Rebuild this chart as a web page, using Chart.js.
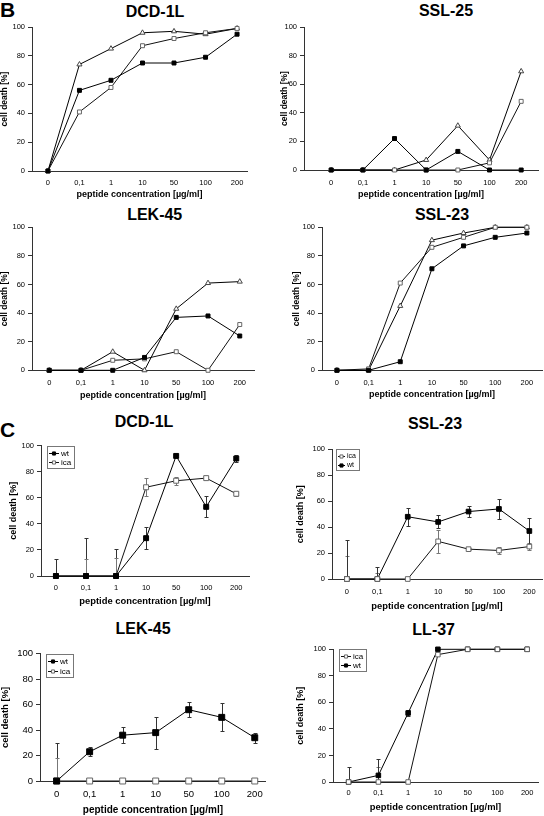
<!DOCTYPE html>
<html>
<head>
<meta charset="utf-8">
<script src="https://cdn.jsdelivr.net/npm/chart.js@4.4.0/dist/chart.umd.min.js"></script>
<style>
  body { margin: 0; background: #fff; width: 544px; height: 816px; position: relative; overflow: hidden; font-family: 'Liberation Sans', Arial, sans-serif; }
  canvas { position: absolute; }
  .ttl { position: absolute; width: 200px; text-align: center; font-weight: bold; font-size: 16px; line-height: 16px; color: #000; }
  .lbl { position: absolute; font-weight: bold; font-size: 21px; line-height: 21px; color: #000; }
</style>
</head>
<body>
<div class="lbl" style="left:0px;top:-1px">B</div>
<div class="lbl" style="left:0px;top:419px">C</div>
<script>
var concLabels = ['0', '0,1', '1', '10', '50', '100', '200'];
var yTicks = [0, 20, 40, 60, 80, 100];

// panel B
var dcdB_filled = [0, 56, 63, 75, 75, 79, 95];
var dcdB_open = [0, 41, 58, 87, 92, 96, 99];
var dcdB_tri = [0, 74, 85, 96, 97, 95, 99];

var ssl25_filled = [0, 0, 22, 0, 13, 0, 0];
var ssl25_open = [0, 0, 0, 0, 0, 5, 48];
var ssl25_tri = [0, 0, 0, 7, 31, 7, 69];

var lekB_filled = [0, 0, 0, 9, 37, 38, 24];
var lekB_open = [0, 0, 7, 8, 13, 0, 32];
var lekB_tri = [0, 0, 13, 0, 43, 61, 62];

var sslB_filled = [0, 0, 6, 71, 87, 93, 96];
var sslB_open = [0, 1, 61, 86, 93, 100, 100];
var sslB_tri = [0, 0, 45, 91, 96, 100, 100];

// panel C (mean and error)
var dcdC_wt = [0, 0, 0, 29, 92, 53, 90];
var dcdC_wtErr = [13, 29, 21, 8.5, 1, 8, 3];
var dcdC_ica = [0, 0, 0, 68, 73, 75, 63];
var dcdC_icaErr = [0, 13, 13.5, 7, 3, 0.5, 1.5];

var sslC_ica = [0, 0, 0, 29, 23, 22, 25];
var sslC_icaErr = [18, 5, 0, 9, 1, 3, 3];
var sslC_wt = [0, 0, 48, 44, 52, 54, 37];
var sslC_wtErr = [30, 9, 7, 5, 4, 8, 10];

var lekC_wt = [0, 23, 36, 38, 56, 50, 34];
var lekC_wtErr = [30, 3.5, 6.5, 12.5, 6, 11, 4];
var lekC_ica = [0, 0, 0, 0, 0, 0, 0];
var lekC_icaErr = [18, 0, 0, 0, 0, 0, 0];

var ll37_ica = [0, 0, 0, 96, 100, 100, 100];
var ll37_icaErr = [0, 11, 0, 0, 0, 0, 0];
var ll37_wt = [0, 5, 52, 100, 100, 100, 100];
var ll37_wtErr = [11, 12, 2, 0, 0, 0, 0];

var markerStyles = {
  filled: { shape: 'rect', fill: '#000', edge: '#000', line: '#000', scale: 1, err: '#333' },
  open: { shape: 'rect', fill: '#fff', edge: '#666', line: '#111', scale: 1, err: '#777' },
  tri: { shape: 'triangle', fill: '#fff', edge: '#444', line: '#000', scale: 1.05, err: '#777' }
};

var panels = [
  { title: 'DCD-1L', tx: 155, ty: 11.5, L: 32, T: 27, R: 248, B: 171, p0: 48, s: 31.67,
    yTitleX: 5, xTitleY: 195, xTickY: 183, tickFs: 7.5, yFs: 8.5, xFs: 9, r: 2.8,
    series: [['', dcdB_filled, null, 'filled'], ['', dcdB_open, null, 'open'], ['', dcdB_tri, null, 'tri']] },
  { title: 'SSL-25', tx: 446, ty: 11, L: 304, T: 27, R: 539, B: 170, p0: 331.3, s: 31.8,
    yTitleX: 285.3, xTitleY: 195, xTickY: 182.7, tickFs: 7.5, yFs: 8.5, xFs: 9, r: 2.8,
    series: [['', ssl25_filled, null, 'filled'], ['', ssl25_open, null, 'open'], ['', ssl25_tri, null, 'tri']] },
  { title: 'LEK-45', tx: 154.7, ty: 215, L: 32, T: 227.3, R: 255, B: 370.3, p0: 49.3, s: 31.9,
    yTitleX: 5, xTitleY: 395.7, xTickY: 382.7, tickFs: 7.5, yFs: 8.5, xFs: 9, r: 2.8,
    series: [['', lekB_filled, null, 'filled'], ['', lekB_open, null, 'open'], ['', lekB_tri, null, 'tri']] },
  { title: 'SSL-23', tx: 442, ty: 215, L: 322, T: 227.3, R: 543, B: 370.3, p0: 337, s: 31.8,
    yTitleX: 297, xTitleY: 395, xTickY: 382.7, tickFs: 7.5, yFs: 8.5, xFs: 9, r: 2.8,
    series: [['', sslB_filled, null, 'filled'], ['', sslB_open, null, 'open'], ['', sslB_tri, null, 'tri']] },
  { title: 'DCD-1L', tx: 144, ty: 422, L: 41, T: 445.5, R: 250, B: 576, p0: 56, s: 30.2,
    yTitleX: 13.3, xTitleY: 601.7, xTickY: 587.7, tickFs: 7.5, yFs: 9, xFs: 9.4, r: 3.5,
    legend: { show: true, x: 6, y: 0, size: 8, seg: 10, rowH: 9.5 },
    series: [['wt', dcdC_wt, dcdC_wtErr, 'filled'], ['ica', dcdC_ica, dcdC_icaErr, 'open']] },
  { title: 'SSL-23', tx: 435, ty: 423.3, L: 332, T: 449.3, R: 543, B: 579, p0: 347, s: 30.55,
    yTitleX: 300.3, xTitleY: 606, xTickY: 592.3, tickFs: 7.5, yFs: 9, xFs: 9.4, r: 3.3,
    legend: { show: true, x: 4, y: 0, size: 7, seg: 7, rowH: 9 },
    series: [['ica', sslC_ica, sslC_icaErr, 'open'], ['wt', sslC_wt, sslC_wtErr, 'filled']] },
  { title: 'LEK-45', tx: 143, ty: 629, L: 40, T: 652.7, R: 267, B: 781, p0: 56.7, s: 33.2,
    yTitleX: 5.7, xTitleY: 810, xTickY: 794, tickFs: 9.5, yFs: 9.5, xFs: 10, r: 4.2,
    legend: { show: true, x: 6, y: 0, size: 8, seg: 10, rowH: 10 },
    series: [['wt', lekC_wt, lekC_wtErr, 'filled'], ['ica', lekC_ica, lekC_icaErr, 'open']] },
  { title: 'LL-37', tx: 433.7, ty: 630, L: 333, T: 649.3, R: 539, B: 782, p0: 348.7, s: 29.9,
    yTitleX: 300.3, xTitleY: 807.3, xTickY: 793.3, tickFs: 7.5, yFs: 9, xFs: 9.4, r: 3.2,
    legend: { show: true, x: 6, y: 0, size: 8, seg: 10, rowH: 9.5 },
    series: [['ica', ll37_ica, ll37_icaErr, 'open'], ['wt', ll37_wt, ll37_wtErr, 'filled']] }
];

Chart.defaults.font.family = "'Liberation Sans', Arial, sans-serif";
Chart.defaults.color = '#000';

// vertical error bars, drawn under the markers
var errorBarPlugin = {
  id: 'errorBars',
  beforeDatasetsDraw: function(chart) {
    var ctx = chart.ctx, a = chart.chartArea;
    var xs = chart.scales.x, ys = chart.scales.y;
    ctx.save();
    ctx.beginPath();
    ctx.rect(a.left, a.top - 20, a.right - a.left, a.bottom - a.top + 20);
    ctx.clip();
    chart.data.datasets.forEach(function(ds) {
      if (!ds.errors) return;
      ctx.strokeStyle = ds.errorColor;
      ctx.lineWidth = 1;
      ds.errors.forEach(function(e, i) {
        if (!e) return;
        var v = ds.data[i].y;
        var px = Math.round(xs.getPixelForValue(i)) + 0.5;
        var top = Math.round(ys.getPixelForValue(v + e)) + 0.5;
        var bot = Math.round(ys.getPixelForValue(v - e)) + 0.5;
        ctx.beginPath();
        ctx.moveTo(px, top); ctx.lineTo(px, bot);
        ctx.moveTo(px - 2, top); ctx.lineTo(px + 2, top);
        ctx.moveTo(px - 2, bot); ctx.lineTo(px + 2, bot);
        ctx.stroke();
      });
    });
    ctx.restore();
  }
};

// small boxed legend in the top left corner of the plot
var boxLegendPlugin = {
  id: 'boxLegend',
  afterDatasetsDraw: function(chart, args, opts) {
    if (!opts || !opts.show) return;
    var ctx = chart.ctx, a = chart.chartArea;
    var sets = chart.data.datasets;
    ctx.save();
    ctx.font = opts.size + "px 'Liberation Sans', Arial, sans-serif";
    var textW = 0;
    sets.forEach(function(ds) { textW = Math.max(textW, ctx.measureText(ds.label).width); });
    var pad = 2;
    var w = Math.round(pad + opts.seg + 2 + textW + pad + 1);
    var h = Math.round(opts.rowH * sets.length + 3);
    var x = Math.round(a.left + opts.x), y = Math.round(a.top + opts.y);
    ctx.fillStyle = '#fff';
    ctx.fillRect(x, y, w, h);
    ctx.strokeStyle = '#777';
    ctx.lineWidth = 1;
    ctx.strokeRect(x + 0.5, y + 0.5, w, h);
    sets.forEach(function(ds, k) {
      var cy = Math.round(y + 2 + opts.rowH * (k + 0.5)) + 0.5;
      ctx.strokeStyle = ds.borderColor;
      ctx.beginPath();
      ctx.moveTo(x + pad, cy);
      ctx.lineTo(x + pad + opts.seg, cy);
      ctx.stroke();
      ctx.fillStyle = ds.pointBackgroundColor;
      ctx.strokeStyle = ds.pointBorderColor;
      Chart.helpers.drawPoint(ctx, { pointStyle: ds.pointStyle, radius: 2.2, borderWidth: 1, rotation: 0 }, x + pad + opts.seg / 2, cy);
      ctx.fillStyle = '#000';
      ctx.textBaseline = 'middle';
      ctx.textAlign = 'left';
      ctx.fillText(ds.label, x + pad + opts.seg + 2, cy);
    });
    ctx.restore();
  }
};

function makeDataset(sr, radius) {
  var st = markerStyles[sr[3]];
  return {
    label: sr[0],
    data: sr[1].map(function(v, i) { return { x: i, y: v }; }),
    errors: sr[2],
    errorColor: st.err,
    borderColor: st.line,
    borderWidth: 1,
    pointStyle: st.shape,
    pointRadius: radius * st.scale,
    pointBackgroundColor: st.fill,
    pointBorderColor: st.edge,
    pointBorderWidth: 1,
    tension: 0,
    clip: false
  };
}

function drawPanel(p) {
  var ttl = document.createElement('div');
  ttl.className = 'ttl';
  ttl.textContent = p.title;
  ttl.style.left = (p.tx - 100) + 'px';
  ttl.style.top = (p.ty - 7.8) + 'px';
  document.body.appendChild(ttl);

  var yLh = p.yFs * 1.2, xLh = p.xFs * 1.2;
  var x0 = Math.round(p.yTitleX - yLh / 2);
  var top = Math.round(p.T - 8);
  var W = Math.round(p.R + 4 - x0);
  var H = Math.round(p.xTitleY + xLh / 2 - top);
  var yw = p.L - x0;
  var xh = top + H - p.B;
  var padTop = p.T - top;
  var padRight = x0 + W - p.R;
  var xPad = p.xTickY - p.B - 0.6 * p.tickFs;

  var canvas = document.createElement('canvas');
  canvas.width = W;
  canvas.height = H;
  canvas.style.left = x0 + 'px';
  canvas.style.top = top + 'px';
  document.body.appendChild(canvas);

  new Chart(canvas.getContext('2d'), {
    type: 'line',
    data: {
      datasets: p.series.map(function(sr) { return makeDataset(sr, p.r); })
    },
    options: {
      responsive: false,
      animation: false,
      events: [],
      layout: { padding: { top: padTop, right: padRight, left: 0, bottom: 0 } },
      plugins: {
        legend: { display: false },
        tooltip: { enabled: false },
        boxLegend: p.legend || { show: false }
      },
      scales: {
        x: {
          type: 'linear',
          min: (p.L - p.p0) / p.s,
          max: (p.R - p.p0) / p.s,
          afterBuildTicks: function(scale) {
            scale.ticks = concLabels.map(function(l, i) { return { value: i }; });
          },
          afterFit: function(scale) { scale.height = xh; },
          ticks: {
            autoSkip: false, maxRotation: 0, padding: xPad,
            font: { size: p.tickFs },
            callback: function(v) { return concLabels[Math.round(v)]; }
          },
          grid: { display: false, drawTicks: false },
          border: { display: true, color: '#333', width: 1 },
          title: {
            display: true, text: 'peptide concentration [µg/ml]',
            font: { size: p.xFs, weight: 'bold' }, padding: { top: 0, bottom: 0 }
          }
        },
        y: {
          min: 0, max: 100,
          afterBuildTicks: function(scale) {
            scale.ticks = yTicks.map(function(v) { return { value: v }; });
          },
          afterFit: function(scale) { scale.width = yw; },
          ticks: { padding: 3, font: { size: p.tickFs } },
          grid: { drawOnChartArea: false, drawTicks: true, tickLength: 4, color: '#333' },
          border: { display: true, color: '#333', width: 1 },
          title: {
            display: true, text: 'cell death [%]',
            font: { size: p.yFs, weight: 'bold' }, padding: { top: 0, bottom: 0 }
          }
        }
      }
    },
    plugins: [errorBarPlugin, boxLegendPlugin]
  });
}

panels.forEach(drawPanel);
</script>
</body>
</html>
